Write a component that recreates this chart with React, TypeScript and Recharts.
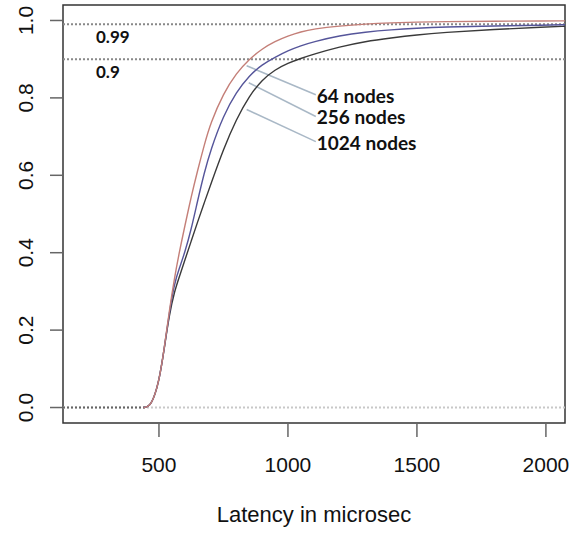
import { LineChart, Line, XAxis, YAxis, ReferenceLine, ReferenceArea } from "recharts";

const latency = [440, 470, 500, 520, 540, 560, 580, 600, 625, 650, 675, 700, 750, 800, 850, 900, 950, 1000, 1050, 1100, 1200, 1300, 1400, 1500, 1600, 1800, 2000, 2074];
const nodes64 = [0, 0.003, 0.065, 0.15, 0.25, 0.335, 0.405, 0.468, 0.545, 0.613, 0.677, 0.735, 0.812, 0.864, 0.9, 0.927, 0.946, 0.96, 0.971, 0.978, 0.986, 0.991, 0.994, 0.996, 0.997, 0.998, 0.999, 0.999];
const nodes256 = [0, 0.003, 0.065, 0.15, 0.245, 0.322, 0.362, 0.4, 0.46, 0.535, 0.605, 0.665, 0.755, 0.815, 0.858, 0.886, 0.905, 0.922, 0.935, 0.945, 0.961, 0.97, 0.976, 0.98, 0.983, 0.986, 0.988, 0.989];
const nodes1024 = [0, 0.003, 0.065, 0.15, 0.24, 0.3, 0.34, 0.38, 0.43, 0.48, 0.528, 0.575, 0.668, 0.745, 0.805, 0.847, 0.873, 0.89, 0.902, 0.913, 0.932, 0.946, 0.955, 0.963, 0.969, 0.977, 0.983, 0.985];

const xTicks = [500, 1000, 1500, 2000];
const yTicks = [0, 0.2, 0.4, 0.6, 0.8, 1.0];
const quantiles = [0.99, 0.9];

const seriesNames = ["64 nodes", "256 nodes", "1024 nodes"];
const seriesColors = ["#c47f78", "#55559a", "#3a3a3a"];
// leader lines from each curve to its label
const leaderFrom = [
  { x: 840, y: 0.883 },
  { x: 848, y: 0.839 },
  { x: 840, y: 0.77 },
];
const leaderTo = [
  { x: 1108, y: 0.808 },
  { x: 1108, y: 0.752 },
  { x: 1108, y: 0.687 },
];

const data = latency.map((x, i) => ({
  x,
  n64: nodes64[i],
  n256: nodes256[i],
  n1024: nodes1024[i],
}));

const axisFont = "'Liberation Sans', Arial, Helvetica, sans-serif";
const noteFont = "Lato, 'Open Sans', sans-serif";

function YTick({ x, y, payload }: any) {
  const bx = x - 17;
  return (
    <text
      x={bx}
      y={y}
      transform={`rotate(-90, ${bx}, ${y})`}
      textAnchor="middle"
      fontSize={21}
      fontFamily={axisFont}
      fill="#111"
    >
      {Number(payload.value).toFixed(1)}
    </text>
  );
}

function XTick({ x, y, payload }: any) {
  return (
    <text x={x} y={y + 35} textAnchor="middle" fontSize={21} fontFamily={axisFont} fill="#111">
      {payload.value}
    </text>
  );
}

function XTitle({ viewBox }: any) {
  return (
    <text
      x={viewBox.x + viewBox.width / 2}
      y={viewBox.y + 99}
      textAnchor="middle"
      fontSize={22}
      fontFamily={axisFont}
      fill="#111"
    >
      Latency in microsec
    </text>
  );
}

export default function App() {
  return (
    <div style={{ position: "absolute", left: 0, top: 0, background: "#fff" }}>
      <LineChart width={573} height={533} data={data} margin={{ top: 5, right: 8, left: 0, bottom: 0 }}>
        <XAxis
          dataKey="x"
          type="number"
          domain={[128, 2074]}
          allowDataOverflow
          ticks={xTicks}
          height={110}
          tickSize={14}
          tickMargin={0}
          axisLine={false}
          tickLine={{ stroke: "#666", strokeWidth: 1.5 }}
          tick={<XTick />}
          label={{ content: (p: any) => <XTitle {...p} /> }}
        />
        <YAxis
          type="number"
          domain={[-0.04, 1.04]}
          allowDataOverflow
          ticks={yTicks}
          width={63}
          tickSize={13}
          tickMargin={0}
          axisLine={false}
          tickLine={{ stroke: "#666", strokeWidth: 1.5 }}
          tick={<YTick />}
        />
        <ReferenceLine y={0} stroke="#c8c8c8" strokeWidth={2} strokeDasharray="2 2" />
        <ReferenceLine
          segment={[
            { x: 128, y: 0 },
            { x: 450, y: 0 },
          ]}
          stroke="#666"
          strokeWidth={2}
          strokeDasharray="2 2"
        />
        {quantiles.map((q) => (
          <ReferenceLine
            key={q}
            y={q}
            stroke="#888"
            strokeWidth={2}
            strokeDasharray="2 2"
            label={{
              content: (p: any) => (
                <text
                  x={p.viewBox.x + 33}
                  y={p.viewBox.y + 19}
                  fontSize={17}
                  fontWeight="bold"
                  fontFamily={noteFont}
                  fill="#111"
                >
                  {String(q)}
                </text>
              ),
            }}
          />
        ))}
        {seriesNames.map((name, i) => (
          <ReferenceLine
            key={name}
            segment={[leaderFrom[i], leaderTo[i]]}
            stroke="#a9b8c6"
            strokeWidth={1.5}
            label={{
              content: (p: any) => (
                <text
                  x={p.viewBox.x + p.viewBox.width + 1}
                  y={p.viewBox.y + p.viewBox.height + 8}
                  fontSize={19}
                  fontWeight="bold"
                  fontFamily={noteFont}
                  fill="#111"
                >
                  {name}
                </text>
              ),
            }}
          />
        ))}
        <Line dataKey="n1024" type="basis" stroke={seriesColors[2]} strokeWidth={1.4} dot={false} isAnimationActive={false} />
        <Line dataKey="n256" type="basis" stroke={seriesColors[1]} strokeWidth={1.4} dot={false} isAnimationActive={false} />
        <Line dataKey="n64" type="basis" stroke={seriesColors[0]} strokeWidth={1.4} dot={false} isAnimationActive={false} />
        <ReferenceArea x1={128} x2={2074} y1={-0.04} y2={1.04} fill="none" fillOpacity={0} stroke="#333" strokeWidth={1.5} />
      </LineChart>
    </div>
  );
}
